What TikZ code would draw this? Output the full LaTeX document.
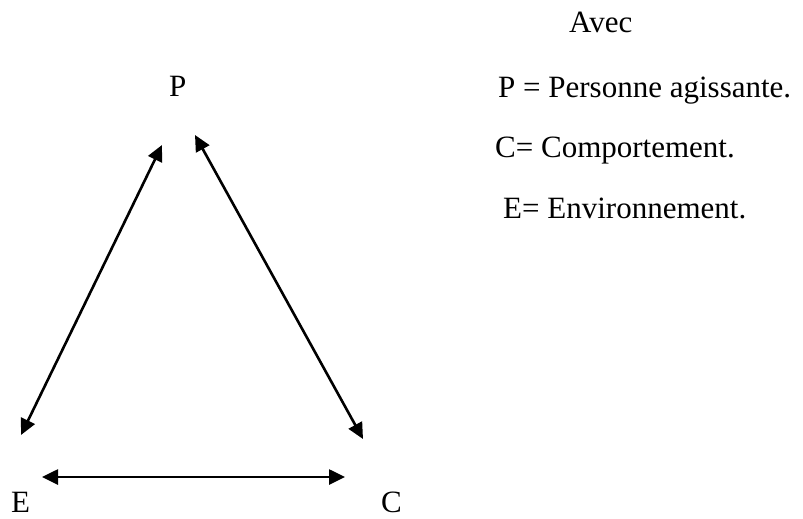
\documentclass[tikz,border=0pt]{standalone}
\usepackage{fontspec}
\setmainfont{Liberation Serif}
\usetikzlibrary{arrows.meta}
\begin{document}
\begin{tikzpicture}[x=1pt,y=-1pt,
  lbl/.style={anchor=base west,inner sep=0pt,font=\fontsize{31}{36}\selectfont},
  link/.style={line width=2.6pt,{Triangle[length=16pt,width=15pt]}-{Triangle[length=16pt,width=15pt]}}]
\useasboundingbox (0,0) rectangle (803,519);
\node[lbl] (P) at (169,96) {P};
\node[lbl] (E) at (11,512) {E};
\node[lbl] (C) at (381,512) {C};
\node[lbl] (avec) at (569,33) {Avec};
\node[lbl] (lp) at (498,97) {P = Personne agissante.};
\node[lbl] (lc) at (495,157) {C= Comportement.};
\node[lbl] (le) at (503,218) {E= Environnement.};
\coordinate (pe1) at (162,145);
\coordinate (pe2) at (21,435);
\coordinate (pc1) at (195,135);
\coordinate (pc2) at (363,439);
\coordinate (ec1) at (42,477);
\coordinate (ec2) at (345,477);
\draw[link] (pe1) -- (pe2);
\draw[link] (pc1) -- (pc2);
\draw[link] (ec1) -- (ec2);
\end{tikzpicture}
\end{document}
